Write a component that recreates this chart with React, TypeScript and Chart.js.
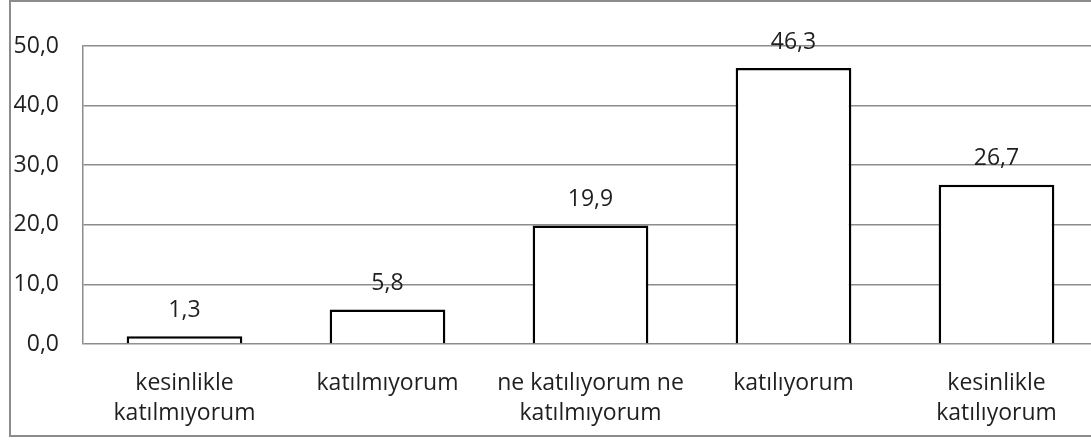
import React, { useEffect, useRef } from "react";
import { Chart, registerables } from "chart.js";

Chart.register(...registerables);

const categories: string[][] = [
  ["kesinlikle", "katılmıyorum"],
  ["katılmıyorum"],
  ["ne katılıyorum ne", "katılmıyorum"],
  ["katılıyorum"],
  ["kesinlikle", "katılıyorum"],
];
const values: number[] = [1.3, 5.8, 19.9, 46.3, 26.7];
const yTicks: number[] = [0, 10, 20, 30, 40, 50];

const FONT = "'Open Sans', 'Noto Sans', sans-serif";
const FSIZE = 23;
const GRID = "#8c8c8c";
const TEXT = "#1f1f1f";

const fmt = (v: number) => v.toFixed(1).replace(".", ",");

const frame = {
  id: "frame",
  beforeDraw(chart: any) {
    const ctx = chart.ctx;
    ctx.save();
    ctx.fillStyle = "#ffffff";
    ctx.fillRect(0, 0, chart.width, chart.height);
    ctx.strokeStyle = GRID;
    ctx.lineWidth = 2;
    ctx.strokeRect(10, 1, 1092, 435);
    ctx.restore();
  },
};

const dataLabels = {
  id: "dataLabels",
  afterDatasetsDraw(chart: any) {
    const ctx = chart.ctx;
    const meta = chart.getDatasetMeta(0);
    ctx.save();
    ctx.font = `${FSIZE}px ${FONT}`;
    ctx.fillStyle = TEXT;
    ctx.textAlign = "center";
    ctx.textBaseline = "middle";
    meta.data.forEach((el: any, i: number) => {
      ctx.fillText(fmt(values[i]), el.x, el.y - 26);
    });
    ctx.restore();
  },
};

export default function App() {
  const ref = useRef<HTMLCanvasElement | null>(null);
  useEffect(() => {
    if (!ref.current) return;
    const chart = new Chart(ref.current, {
      type: "bar",
      data: {
        labels: categories,
        datasets: [
          {
            data: values,
            backgroundColor: "#ffffff",
            borderColor: "#000000",
            borderWidth: 2.5,
            barPercentage: 0.57,
            categoryPercentage: 1,
          },
        ],
      },
      options: {
        animation: false,
        responsive: false,
        devicePixelRatio: 1,
        layout: { padding: { left: 0, top: 46, right: 12, bottom: 0 } },
        plugins: { legend: { display: false }, tooltip: { enabled: false } },
        scales: {
          x: {
            grid: { display: false, drawTicks: false },
            border: { display: false },
            ticks: {
              padding: 24,
              color: TEXT,
              font: { family: FONT, size: FSIZE, lineHeight: 30 / FSIZE },
              maxRotation: 0,
              autoSkip: false,
            },
            afterFit(scale: any) {
              scale.height = 97;
            },
          },
          y: {
            min: 0,
            max: 50,
            afterBuildTicks(scale: any) {
              scale.ticks = yTicks.map((v) => ({ value: v }));
            },
            grid: { color: GRID, lineWidth: 1.5, drawTicks: false },
            border: { display: true, color: GRID, width: 1.5 },
            ticks: {
              padding: 24,
              color: TEXT,
              font: { family: FONT, size: FSIZE },
              callback: (v: any) => fmt(Number(v)),
            },
            afterFit(scale: any) {
              scale.width = 83;
            },
          },
        },
      },
      plugins: [frame, dataLabels],
    });
    return () => chart.destroy();
  }, []);
  return (
    <div
      style={{
        position: "fixed",
        left: 0,
        top: 0,
        width: 1091,
        height: 441,
        overflow: "hidden",
        background: "#fff",
      }}
    >
      <canvas
        ref={ref}
        width={1110}
        height={441}
        style={{ position: "absolute", left: 0, top: 0, width: 1110, height: 441 }}
      />
    </div>
  );
}
